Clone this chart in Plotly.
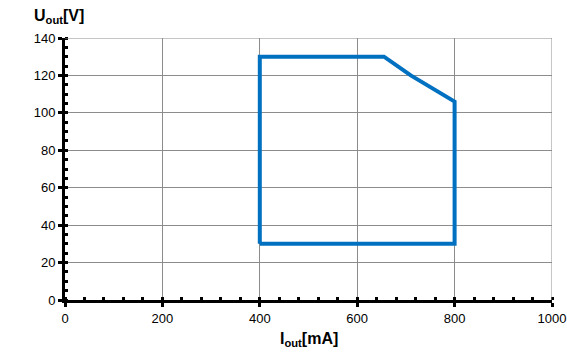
import plotly.graph_objects as go

# Operating envelope: output current (mA) vs output voltage (V)
current_ma = [400, 400, 655, 710, 800, 800, 400]
voltage_v = [30, 130, 130, 120, 106, 30, 30]

x_ticks = [0, 200, 400, 600, 800, 1000]
y_ticks = [0, 20, 40, 60, 80, 100, 120, 140]

fig = go.Figure()
fig.add_trace(go.Scatter(
    x=current_ma, y=voltage_v, mode="lines",
    line=dict(color="#0070C0", width=4),
    hoverinfo="skip", showlegend=False,
))

font = dict(family="Liberation Sans, Arial, sans-serif", size=13, color="#000000")

fig.update_layout(
    width=567, height=352,
    margin=dict(l=65, r=15, t=38, b=52, autoexpand=False),
    paper_bgcolor="white", plot_bgcolor="white",
    font=font,
    xaxis=dict(
        range=[0, 1000], tickvals=x_ticks, ticktext=[str(v) for v in x_ticks],
        showgrid=True, gridcolor="#8c8c8c", gridwidth=1,
        showline=True, linecolor="black", linewidth=3,
        ticks="outside", ticklen=4, tickwidth=3, tickcolor="black",
        minor=dict(dtick=40, ticks="inside", ticklen=3, tickwidth=3,
                   tickcolor="black", showgrid=False),
        zeroline=False, fixedrange=True, automargin=False,
    ),
    yaxis=dict(
        range=[0, 140], tickvals=y_ticks, ticktext=[str(v) for v in y_ticks],
        showgrid=True, gridcolor="#8c8c8c", gridwidth=1,
        showline=True, linecolor="black", linewidth=3,
        ticks="outside", ticklen=4, tickwidth=3, tickcolor="black",
        minor=dict(dtick=5, ticks="inside", ticklen=3, tickwidth=3,
                   tickcolor="black", showgrid=False),
        zeroline=False, fixedrange=True, automargin=False,
    ),
    annotations=[
        dict(text="<b>U<sub>out</sub>[V]</b>", xref="paper", yref="paper",
             x=-0.068, y=1.04, xanchor="left", yanchor="bottom",
             showarrow=False, font=dict(size=16, family=font["family"])),
        dict(text="<b>I<sub>out</sub>[mA]</b>", xref="paper", yref="paper",
             x=0.5, y=-0.105, xanchor="center", yanchor="top",
             showarrow=False, font=dict(size=16, family=font["family"])),
    ],
)

# right and top border as light grid lines
fig.add_shape(type="line", xref="x", yref="y", x0=1000, x1=1000, y0=0, y1=140,
              line=dict(color="#8c8c8c", width=1))
fig.add_shape(type="line", xref="x", yref="y", x0=0, x1=1000, y0=140, y1=140,
              line=dict(color="#8c8c8c", width=1))

fig.write_html("out.html")
